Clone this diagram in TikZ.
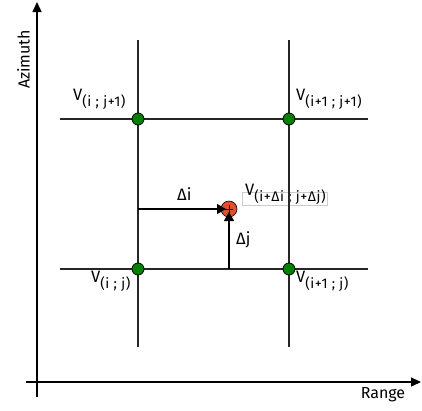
\documentclass[tikz,border=0pt]{standalone}
\usepackage{fontspec}
\setmainfont{Fira Sans}
\usetikzlibrary{arrows.meta}
\definecolor{gnode}{RGB}{0,128,0}
\definecolor{rnode}{RGB}{222,80,45}
\newcommand{\Vsub}[1]{V\raisebox{-6pt}{\fontsize{14}{16}\selectfont\addfontfeature{LetterSpace=4}#1}}
\tikzset{
  gridline/.style={line width=1.3pt, draw=black!85},
  axisline/.style={line width=1.3pt, draw=black, -{Triangle[length=10pt,width=9pt]}},
  gpt/.style={circle, fill=gnode, draw=black, line width=0.8pt, minimum size=12pt, inner sep=0pt},
  rpt/.style={circle, fill=rnode, draw=black, line width=0.6pt, minimum size=16pt, inner sep=0pt},
  lab/.style={font=\fontsize{16.5}{19}\selectfont, inner sep=0pt, anchor=base west},
  darrow/.style={line width=1.3pt, -{Triangle[length=9pt,width=10pt]}},
}
\begin{document}
\begin{tikzpicture}[x=1pt,y=-1pt]
\useasboundingbox (0,0) rectangle (422,410);
% axes
\coordinate (ax0) at (37,397);
\coordinate (axT) at (37,2);
\coordinate (ay0) at (26,382);
\coordinate (ayR) at (421,382);
\draw[axisline] (ax0) -- (axT);
\draw[axisline] (ay0) -- (ayR);
\node[font=\fontsize{16}{19}\selectfont, rotate=90, inner sep=0pt] (az) at (23.5,59.5) {Azimuth};
\node[font=\fontsize{16}{19}\selectfont, inner sep=0pt] (rg) at (383,395) {Range};
% interpolated label box
\draw[black!20, line width=0.6pt] (242,192) rectangle (327,205);
\node[lab] (lc) at (245,195) {\Vsub{(i+Δi ; j+Δj)}};
% grid lines
\coordinate (v1t) at (138,40); \coordinate (v1b) at (138,347);
\coordinate (v2t) at (289,40); \coordinate (v2b) at (289,347);
\coordinate (h1l) at (60,119); \coordinate (h1r) at (368,119);
\coordinate (h2l) at (60,269); \coordinate (h2r) at (368,269);
\draw[gridline] (v1t) -- (v1b);
\draw[gridline] (v2t) -- (v2b);
\draw[gridline] (h1l) -- (h1r);
\draw[gridline] (h2l) -- (h2r);
% points
\node[gpt] (p11) at (138,119) {};
\node[gpt] (p21) at (289,119) {};
\node[gpt] (p10) at (138,269) {};
\node[gpt] (p20) at (289,269) {};
\node[rpt] (pc) at (229,209) {};
\draw[line width=0.6pt] ([xshift=-4pt]pc.center) -- ([xshift=4pt]pc.center);
\draw[line width=0.6pt] ([yshift=-4pt]pc.center) -- ([yshift=4pt]pc.center);
% delta arrows
\coordinate (ds) at (138,209);
\coordinate (dse) at (226,209);
\coordinate (dj) at (229,269);
\coordinate (dje) at (229,212);
\draw[darrow] (ds) -- (dse);
\draw[darrow] (dj) -- (dje);
% labels
\node[lab] (l11) at (73,100) {\Vsub{(i ; j+1)}};
\node[lab] (l21) at (296,100) {\Vsub{(i+1 ; j+1)}};
\node[lab] (l10) at (91,282) {\Vsub{(i ; j)}};
\node[lab] (l20) at (296,282) {\Vsub{(i+1 ; j)}};
\node[lab] (di) at (177,200) {Δi};
\node[lab] (djl) at (236,244) {Δj};
\end{tikzpicture}
\end{document}
